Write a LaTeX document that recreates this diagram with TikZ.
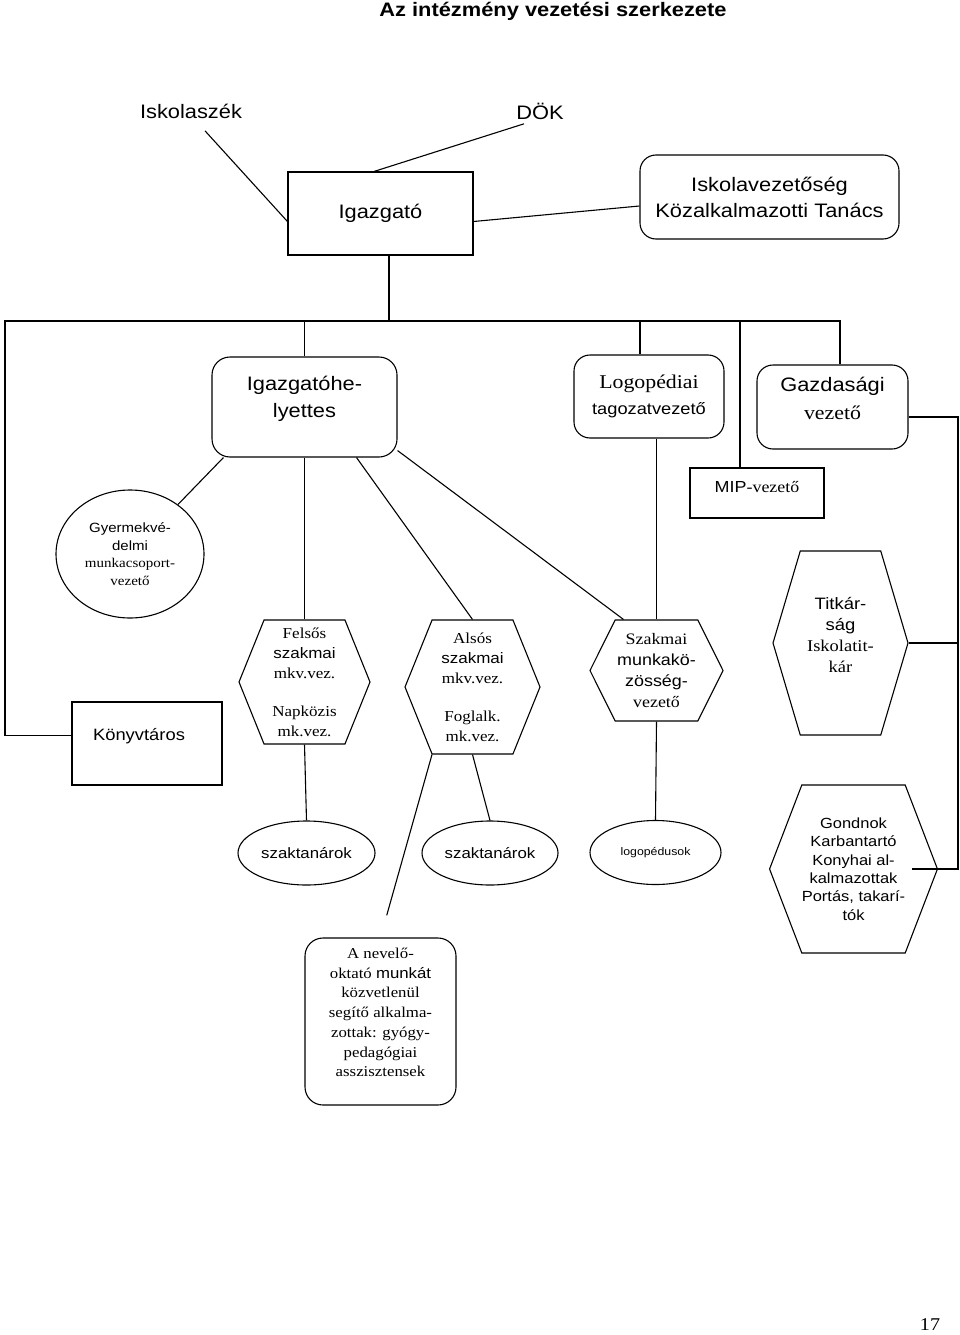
\documentclass[tikz,border=0pt]{standalone}
\usepackage{fontspec}
\usetikzlibrary{shapes.geometric,shapes.symbols,positioning}
\newfontfamily\hsans{Liberation Sans}[FakeStretch=1.12]
\newfontfamily\hserif{Liberation Serif}[FakeStretch=1.12]
\newcommand{\fs}[2]{\fontsize{#1}{#2}\selectfont}

\begin{document}
\begin{tikzpicture}[
  x=1pt, y=-1pt,
  line width=1.1pt,
  every node/.style={inner sep=0pt, align=center, font=\hsans\fs{19.5}{26}},
  box/.style={draw, rectangle},
  rbox/.style={draw, rounded corners=16pt},
  oval/.style={draw, ellipse},
  hexa/.style={draw, signal, signal to=east and west}
]
\useasboundingbox (0,0) rectangle (960,1335);

\node[font=\hsans\bfseries\fs{19.5}{23}] (title) at (553,11) {Az intézmény vezetési szerkezete};

\node (iskolaszek) at (191,111) {Iskolaszék};
\node (dok) at (540,111) {DÖK};
\node[box, minimum width=185pt, minimum height=83pt] (igazgato) at (380.5,213.5) {Igazgató};
\node[rbox, minimum width=259pt, minimum height=84pt] (vezetoseg) at (769.5,197) {Iskolavezetőség\\Közalkalmazotti Tanács};

\node[rbox, rounded corners=18pt, minimum width=185pt, minimum height=100pt] (ihely) at (304.5,407) {};
\node[font=\hsans\fs{19.5}{27}] (ihelytxt) at ([yshift=8pt]ihely) {Igazgatóhe-\\lyettes};
\node[rbox, minimum width=150pt, minimum height=83pt] (logo) at (649,396.5) {{\hserif Logopédiai}\\{\fs{16.3}{26}tagozatvezető}};
\node[rbox, minimum width=151pt, minimum height=84pt] (gazd) at (832.5,407) {};
\node[font=\hsans\fs{19.5}{28}] (gazdtxt) at ([yshift=9pt]gazd) {Gazdasági\\{\hserif vezető}};
\node[box, minimum width=134pt, minimum height=50pt] (mip) at (757,493) {};
\node[font=\hsans\fs{16}{20}] (miptxt) at ([yshift=6pt]mip) {MIP{\hserif -vezető}};

\node[oval, minimum width=148pt, minimum height=128pt, font=\hsans\fs{13.4}{17.7}] (gyerm) at (130,554) {Gyermekvé-\\delmi\\{\hserif munkacsoport-}\\{\hserif vezető}};
\node[box, minimum width=150pt, minimum height=83pt] (konyv) at (147,743.5) {};
\node[font=\hsans\fs{16.4}{20}] (konyvtxt) at ([xshift=-8pt,yshift=7pt]konyv) {Könyvtáros};

\node[hexa, signal pointer angle=136, minimum width=131pt, minimum height=124pt, font=\hserif\fs{15.2}{20}] (felsos) at (304.5,682) {Felsős\\{\hsans szakmai}\\mkv.vez.\\[18pt]Napközis\\mk.vez.};
\node[hexa, signal pointer angle=136, minimum width=135pt, minimum height=134pt, font=\hserif\fs{15.2}{20}] (alsos) at (472.5,687) {Alsós\\{\hsans szakmai}\\mkv.vez.\\[18pt]Foglalk.\\mk.vez.};
\node[hexa, signal pointer angle=127, minimum width=133pt, minimum height=101pt, font=\hserif\fs{16}{21}] (szakmai) at (656.5,670.5) {Szakmai\\{\hsans munkakö-}\\{\hsans zösség-}\\vezető};
\node[hexa, signal pointer angle=147, minimum width=135pt, minimum height=184pt] (titkar) at (840.5,643) {};
\node[font=\hsans\fs{16.5}{21}] (titkartxt) at ([yshift=8pt]titkar) {Titkár-\\ság\\{\hserif Iskolatit-}\\{\hserif kár}};

\node[oval, minimum width=137pt, minimum height=64pt, font=\hsans\fs{15}{18}] (szak1) at (306.5,853) {szaktanárok};
\node[oval, minimum width=136pt, minimum height=64pt, font=\hsans\fs{15}{18}] (szak2) at (490,853) {szaktanárok};
\node[oval, minimum width=131pt, minimum height=64pt, font=\hsans\fs{11}{14}] (logoped) at (655.5,852.5) {logopédusok};
\node[hexa, signal pointer angle=138, minimum width=161pt, minimum height=168pt, font=\hsans\fs{14.7}{18.4}] (gondnok) at (853.5,869) {Gondnok\\Karbantartó\\Konyhai al-\\kalmazottak\\Portás, takarí-\\tók};

\node[rbox, rounded corners=18pt, minimum width=151pt, minimum height=167pt] (nevelo) at (380.5,1021.5) {};
\node[font=\hserif\fs{15}{19.7}] (nevelotxt) at ([yshift=9pt]nevelo) {A nevelő-\\oktató {\hsans munkát}\\közvetlenül\\segítő alkalma-\\zottak: gyógy-\\pedagógiai\\asszisztensek};

\node[font=\hserif\fs{18}{20}] (page) at (930,1325) {17};

\coordinate (busL) at (5,321);
\coordinate (busR) at (840,321);
\coordinate (rail) at (958,417);
\coordinate (igz) at ([xshift=8.5pt]igazgato.south);
\coordinate (logotop) at ([xshift=-9pt]logo.north);
\coordinate (miptop) at ([xshift=-17pt]mip.north);
\coordinate (gondin) at ([xshift=-26pt]gondnok.east);

\draw ([xshift=14pt,yshift=-12pt]iskolaszek.south) -- ([yshift=-8pt]igazgato.west);
\draw ([xshift=-16pt,yshift=-4pt]dok.south) -- ([xshift=-6.5pt]igazgato.north);
\draw ([yshift=-8pt]igazgato.east) -- ([yshift=-9pt]vezetoseg.west);
\draw ([yshift=8pt]konyv.west) -| (busL) -- (busR) -- ([xshift=7.5pt]gazd.north);
\draw (igz) -- (igz |- busL);
\draw (ihely.north) -- (ihely.north |- busL);
\draw (logotop) -- (logotop |- busL);
\draw (miptop) -- (miptop |- busL);
\draw ([yshift=-10pt]gazd.east) -- (rail) |- (gondin);
\draw (titkar.east) -- (titkar.east -| rail);

\draw ([xshift=12pt]ihely.south west) -- (gyerm);
\draw (ihely.south) -- (felsos.north);
\draw ([xshift=52pt]ihely.south) -- (alsos.north);
\draw ([yshift=7pt]ihely.south east) -- ([xshift=-33pt]szakmai.north);
\draw (szakmai.north |- logo.south) -- (szakmai.north);
\draw (felsos.south) -- (szak1.north);
\draw[shorten >=23pt] ([xshift=-40.5pt]alsos.south) -- (nevelo.north);
\draw (alsos.south) -- (szak2.north);
\draw (szakmai.south) -- (logoped.north);
\end{tikzpicture}
\end{document}
